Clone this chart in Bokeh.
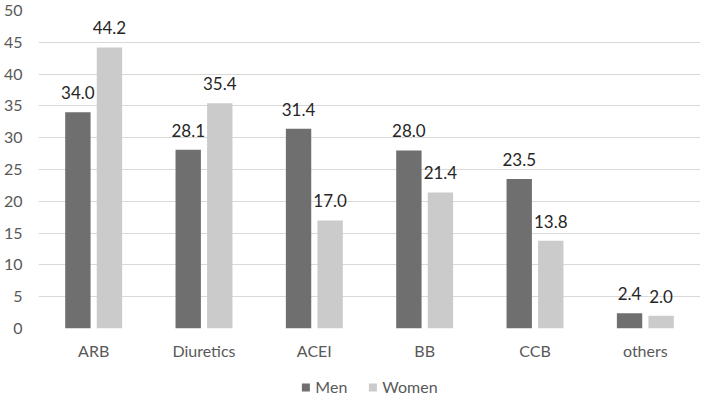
from bokeh.plotting import figure
from bokeh.layouts import column
from bokeh.models import ColumnDataSource, FactorRange, Range1d, FixedTicker, Legend, LegendItem, LabelSet
from bokeh.core.properties import value
from bokeh.transform import dodge
from bokeh.embed import file_html
from bokeh.resources import INLINE

categories = ["ARB", "Diuretics", "ACEI", "BB", "CCB", "others"]
men = [34.0, 28.1, 31.4, 28.0, 23.5, 2.4]
women = [44.2, 35.4, 17.0, 21.4, 13.8, 2.0]
y_ticks = [0, 5, 10, 15, 20, 25, 30, 35, 40, 45, 50]
series_names = ["Men", "Women"]
series_colors = ["#6f6f6f", "#cbcbcb"]

src = ColumnDataSource(dict(
    cat=categories, men=men, women=women,
    men_lbl=[f"{v:.1f}" for v in men],
    women_lbl=[f"{v:.1f}" for v in women],
))

FONT = "Lato"
W = 701
p = figure(x_range=FactorRange(*categories, range_padding=0), y_range=Range1d(0, 50),
           width=W, height=362, output_backend="svg", toolbar_location=None,
           min_border_left=36, min_border_right=1, min_border_top=10, min_border_bottom=34)
p.outline_line_color = None

OFF = 0.143
BW = 0.23
p.vbar(x=dodge("cat", -OFF, range=p.x_range), top="men", width=BW, source=src,
       color=series_colors[0], line_color=None)
p.vbar(x=dodge("cat", OFF, range=p.x_range), top="women", width=BW, source=src,
       color=series_colors[1], line_color=None)

for col, off in (("men", -OFF), ("women", OFF)):
    p.add_layout(LabelSet(x=dodge("cat", off, range=p.x_range), y=col, text=col + "_lbl", source=src,
                          text_align="center", text_baseline="bottom", y_offset=13,
                          text_font=value(FONT), text_font_size=value("17px"), text_color="#262626"))

p.yaxis.ticker = FixedTicker(ticks=y_ticks)
for ax in (p.xaxis[0], p.yaxis[0]):
    ax.axis_line_color = None
    ax.major_tick_line_color = None
    ax.minor_tick_line_color = None
    ax.major_label_text_font = FONT
    ax.major_label_text_color = "#595959"
p.yaxis.major_label_text_font_size = "16px"
p.xaxis.major_label_text_font_size = "16px"
p.yaxis.major_label_standoff = 10
p.xaxis.major_label_standoff = 6

p.xgrid.grid_line_color = None
p.ygrid.grid_line_color = "#d9d9d9"
p.ygrid.grid_line_width = 1

# legend strip
lf = figure(width=W, height=34, output_backend="svg", toolbar_location=None,
            x_range=Range1d(0, 1), y_range=Range1d(0, 1),
            min_border_left=28, min_border_right=1, min_border_top=0, min_border_bottom=0)
lf.axis.visible = False
lf.grid.visible = False
lf.outline_line_color = None
items = []
for name, colr in zip(series_names, series_colors):
    r = lf.vbar(x=[5], top=[5], bottom=[4], width=0.1, color=colr, line_color=None)
    items.append(LegendItem(label=name, renderers=[r]))
lf.add_layout(Legend(items=items, orientation="horizontal", location="bottom",
                     label_text_font=FONT, label_text_font_size="16px", label_text_color="#595959",
                     glyph_width=10, glyph_height=10, spacing=20, label_standoff=5,
                     border_line_color=None, background_fill_alpha=0, margin=0, padding=2))

open("out.html", "w").write(file_html(column(p, lf, spacing=0), INLINE))
